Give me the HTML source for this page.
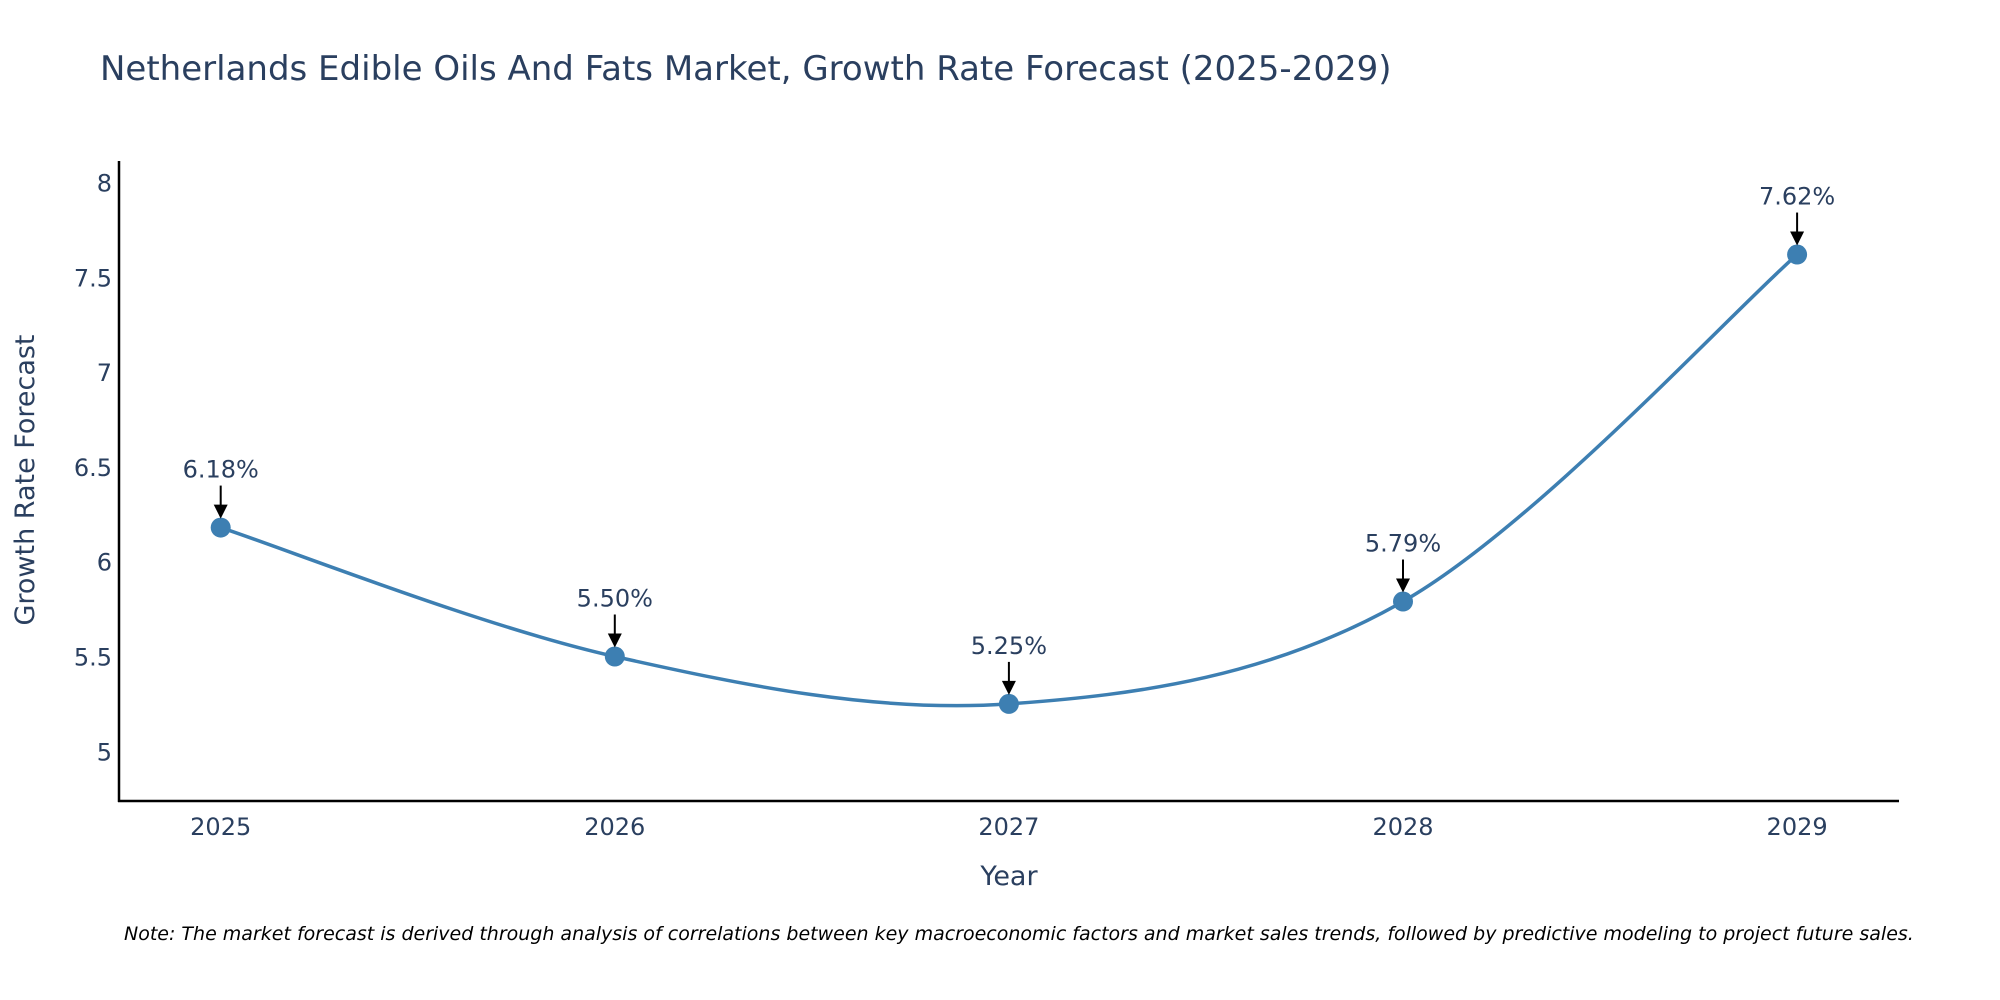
<!DOCTYPE html>
<html><head><meta charset="utf-8"><style>
html,body{margin:0;padding:0;background:#fff;}
svg{display:block;font-family:"DejaVu Sans","Liberation Sans",sans-serif;}
</style></head><body>
<svg id="chart" width="2000" height="1000" viewBox="0 0 2000 1000">
<text x="100" y="80" font-size="34" fill="#2a3f5f">Netherlands Edible Oils And Fats Market, Growth Rate Forecast (2025-2029)</text>
<g id="yticks"></g>
<g id="xticks"></g>
<line x1="119" y1="161" x2="119" y2="802" stroke="#000" stroke-width="2.5"/>
<line x1="118" y1="801" x2="1899" y2="801" stroke="#000" stroke-width="2.5"/>
<text transform="translate(34,480) rotate(-90)" text-anchor="middle" font-size="27" fill="#2a3f5f">Growth Rate Forecast</text>
<text x="1009" y="885" text-anchor="middle" font-size="27" fill="#2a3f5f">Year</text>
<g id="series"></g>
<g id="annots"></g>
<text x="124" y="940" font-size="19" font-style="italic" fill="#000">Note: The market forecast is derived through analysis of correlations between key macroeconomic factors and market sales trends, followed by predictive modeling to project future sales.</text>
</svg>
<script>
const categories = ["2025","2026","2027","2028","2029"];
const values = [6.18, 5.50, 5.25, 5.79, 7.62];
const valueLabels = ["6.18%","5.50%","5.25%","5.79%","7.62%"];
const yTickValues = [5, 5.5, 6, 6.5, 7, 7.5, 8];
const yTickLabels = ["5","5.5","6","6.5","7","7.5","8"];

const NS = "http://www.w3.org/2000/svg";
const x0 = 220.7, xStep = 394.1;
function xScale(i){ return x0 + i * xStep; }
function yScale(v){ return 751.3 - (v - 5) * 189.6; }
function mk(tag, attrs, parent){ const e = document.createElementNS(NS, tag); for (const k in attrs) e.setAttribute(k, attrs[k]); parent.appendChild(e); return e; }

const yt = document.getElementById("yticks");
yTickValues.forEach((v, i) => {
  const t = mk("text", {x:112, y:yScale(v)+9, "text-anchor":"end", "font-size":24, fill:"#2a3f5f"}, yt);
  
  
  t.textContent = yTickLabels[i];
});
const xt = document.getElementById("xticks");
categories.forEach((c, i) => {
  const t = mk("text", {x:xScale(i), y:835, "text-anchor":"middle", "font-size":24, fill:"#2a3f5f"}, xt);
  
  
  t.textContent = c;
});

const pts = values.map((v, i) => [xScale(i), yScale(v)]);
let d = "M" + pts[0][0] + "," + pts[0][1];
const s = 1/6;
for (let i = 0; i < pts.length - 1; i++) {
  const p0 = pts[Math.max(0, i-1)], p1 = pts[i], p2 = pts[i+1], p3 = pts[Math.min(pts.length-1, i+2)];
  const c1 = [p1[0] + (p2[0]-p0[0])*s, p1[1] + (p2[1]-p0[1])*s];
  const c2 = [p2[0] - (p3[0]-p1[0])*s, p2[1] - (p3[1]-p1[1])*s];
  d += " C" + c1.join(",") + " " + c2.join(",") + " " + p2.join(",");
}
const ser = document.getElementById("series");
const line = mk("path", {d:d, fill:"none", stroke:"#3d7fb2", "stroke-width":3.5}, ser);


const an = document.getElementById("annots");
pts.forEach((p, i) => {
  const c = mk("circle", {cx:p[0], cy:p[1], r:10, fill:"#3d7fb2"}, ser);
  
  
  const l = mk("line", {x1:p[0], y1:p[1]-42, x2:p[0], y2:p[1]-22, stroke:"#000", "stroke-width":2}, an);
  
  
  const h = mk("polygon", {points:(p[0]-7)+","+(p[1]-23)+" "+(p[0]+7)+","+(p[1]-23)+" "+p[0]+","+(p[1]-9), fill:"#000"}, an);
  
  
  const t = mk("text", {x:p[0], y:p[1]-50, "text-anchor":"middle", "font-size":24, fill:"#2a3f5f"}, an);
  
  
  t.textContent = valueLabels[i];
});
</script>
</body></html>
